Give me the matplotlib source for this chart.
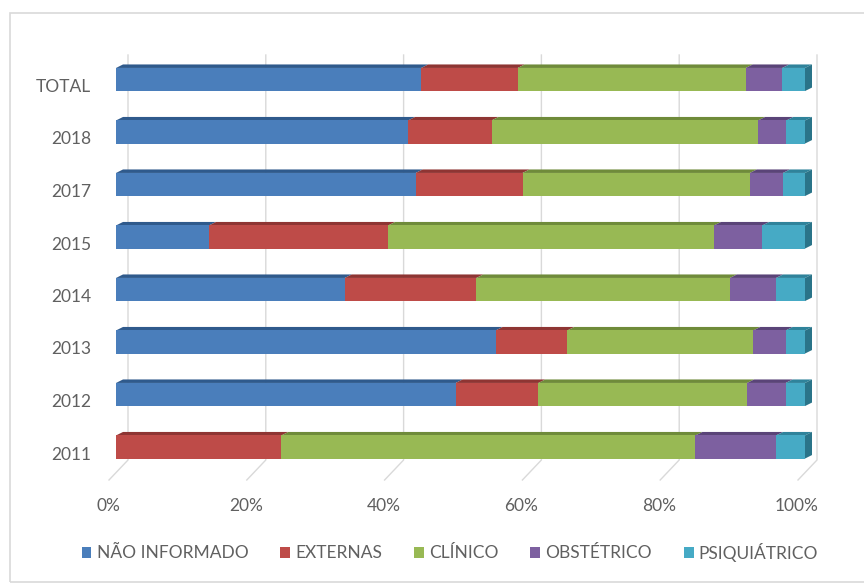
import matplotlib
matplotlib.use("Agg")
import matplotlib.pyplot as plt
import matplotlib.transforms as mtransforms
from matplotlib.patches import Polygon, Rectangle, Patch
import numpy as np

# ---- data (percent of each row) ----
categories = ["2011", "2012", "2013", "2014", "2015", "2017", "2018", "TOTAL"]
series_names = ["NÃO INFORMADO", "EXTERNAS", "CLÍNICO", "OBSTÉTRICO", "PSIQUIÁTRICO"]
nao_informado = [0.0, 49.3, 55.1, 33.2, 13.5, 43.5, 42.4, 44.3]
externas = [24.0, 12.0, 10.4, 19.1, 26.0, 15.5, 12.1, 14.0]
clinico = [60.1, 30.3, 27.0, 36.8, 47.3, 33.0, 38.7, 33.1]
obstetrico = [11.7, 5.6, 4.7, 6.7, 7.0, 4.8, 4.1, 5.3]
psiquiatrico = [4.2, 2.8, 2.8, 4.2, 6.2, 3.2, 2.7, 3.3]
x_ticks = [0, 20, 40, 60, 80, 100]
x_tick_labels = ["0%", "20%", "40%", "60%", "80%", "100%"]

# ---- styling ----
front_colors = ["#4A7EBB", "#BE4B48", "#98B954", "#7D60A0", "#46AAC5"]
top_colors = ["#2F5A8C", "#8E3533", "#6F8B3A", "#5A4478", "#2F839B"]
side_color = "#2A7489"
grid_color = "#D9D9D9"
text_color = "#606060"
font = ["Lato", "DejaVu Sans"]
fs = 12.5

plt.rcParams["font.family"] = font

W, H, DPI = 864, 583, 100
fig = plt.figure(figsize=(W / DPI, H / DPI), dpi=DPI)
fig.patch.set_facecolor("white")


def px_rect(l, t, r, b):
    return [l / W, 1 - b / H, (r - l) / W, (b - t) / H]


# outer chart border
fig.patches.append(Rectangle((9.5 / W, 1.5 / H), 1.0, (581 - 12.5) / H,
                             transform=fig.transFigure, fill=False,
                             edgecolor=grid_color, linewidth=1.2))

ax_l, ax_t, ax_r, ax_b = 116, 48, 805, 478.5
ax = fig.add_axes(px_rect(ax_l, ax_t, ax_r, ax_b))
ax.set_xlim(0, 100)
ax.set_ylim(-0.6, 7.6)
for s in ax.spines.values():
    s.set_visible(False)
ax.set_facecolor("none")

# pixel -> data scale factors for the pseudo-3D depth
xpu = (ax_r - ax_l) / 100.0
ypu = (ax_b - ax_t) / 8.2

values = np.array([nao_informado, externas, clinico, obstetrico, psiquiatrico])
values = values / values.sum(axis=0) * 100.0
ypos = np.arange(len(categories))
bar_h = 0.44

# back wall gridlines and floor edges
back_dx = 12 / xpu
front_dx = -7 / xpu
g_top = 7.6 - (55 - ax_t) / ypu
g_bot = 7.6 - (460 - ax_t) / ypu
g_front = 7.6 - (480 - ax_t) / ypu
for xv in x_ticks:
    ax.plot([xv + back_dx, xv + back_dx, xv + front_dx],
            [g_top, g_bot, g_front], color=grid_color, lw=1.0,
            clip_on=False, zorder=1)

# front faces
lefts = np.zeros(len(categories))
for i, name in enumerate(series_names):
    ax.barh(ypos, values[i], left=lefts, height=bar_h, color=front_colors[i],
            edgecolor="none", zorder=3, label=name)
    lefts = lefts + values[i]

# top faces and right end faces
ddx = 7 / xpu
ddy = 3.5 / ypu
for j, yc in enumerate(ypos):
    left = 0.0
    for i in range(len(series_names)):
        w = values[i, j]
        if w <= 0:
            continue
        top = yc + bar_h / 2
        poly = Polygon([(left, top), (left + w, top),
                        (left + w + ddx, top + ddy), (left + ddx, top + ddy)],
                       closed=True, facecolor=top_colors[i], edgecolor="none",
                       zorder=2.9, clip_on=False)
        ax.add_patch(poly)
        left += w
    bot = yc - bar_h / 2
    top = yc + bar_h / 2
    side = Polygon([(left, bot), (left, top), (left + ddx, top + ddy),
                    (left + ddx, bot + ddy)], closed=True,
                   facecolor=side_color, edgecolor="none", zorder=2.9,
                   clip_on=False)
    ax.add_patch(side)

# axis labels
ax.set_yticks(ypos, categories)
ax.tick_params(axis="y", length=0, pad=18, labelsize=fs, labelcolor=text_color)
for lbl in ax.get_yticklabels():
    lbl.set_transform(lbl.get_transform() +
                      mtransforms.ScaledTranslation(0, -6 / DPI, fig.dpi_scale_trans))

ax.set_xticks(x_ticks, x_tick_labels)
ax.tick_params(axis="x", length=0, pad=14, labelsize=fs, labelcolor=text_color)
for lbl in ax.get_xticklabels():
    lbl.set_transform(lbl.get_transform() +
                      mtransforms.ScaledTranslation(-8 / DPI, 0, fig.dpi_scale_trans))

handles = [Patch(facecolor=c, edgecolor="none") for c in front_colors]
leg = fig.legend(handles, series_names, loc="center", ncol=5,
                 bbox_to_anchor=(450 / W, 1 - 552 / H), frameon=False,
                 handlelength=0.55, handleheight=0.55, handletextpad=0.3,
                 columnspacing=1.85, fontsize=fs)
for t in leg.get_texts():
    t.set_color(text_color)

fig.savefig("out.png", dpi=DPI, facecolor="white")
